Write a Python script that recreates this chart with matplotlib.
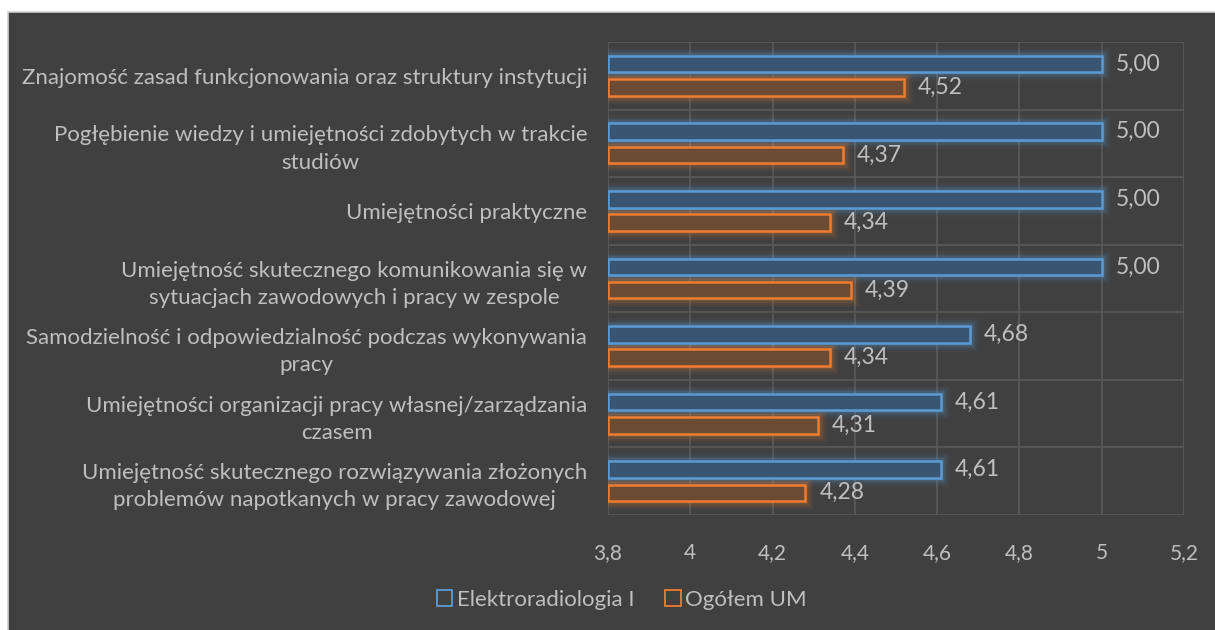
import matplotlib
matplotlib.use("Agg")
import matplotlib.pyplot as plt
from matplotlib.patches import Patch, Rectangle
from matplotlib.ticker import FuncFormatter, FixedLocator
import numpy as np

# Dane z wykresu (od góry do dołu)
kategorie = [
    "Znajomość zasad funkcjonowania oraz struktury instytucji",
    "Pogłębienie wiedzy i umiejętności zdobytych w trakcie\nstudiów",
    "Umiejętności praktyczne",
    "Umiejętność skutecznego komunikowania się w\nsytuacjach zawodowych i pracy w zespole",
    "Samodzielność i odpowiedzialność podczas wykonywania\npracy",
    "Umiejętności organizacji pracy własnej/zarządzania\nczasem",
    "Umiejętność skutecznego rozwiązywania złożonych\nproblemów napotkanych w pracy zawodowej",
]
elektroradiologia = [5.00, 5.00, 5.00, 5.00, 4.68, 4.61, 4.61]
ogolem_um = [4.52, 4.37, 4.34, 4.39, 4.34, 4.31, 4.28]
serie = ["Elektroradiologia I", "Ogółem UM"]
x_ticks = [3.8, 4.0, 4.2, 4.4, 4.6, 4.8, 5.0, 5.2]

tlo = "#404040"
tekst = "#bfbfbf"
siatka = "#5a5a5a"
niebieski = "#5b9bd5"
pomaranczowy = "#ed7d31"
wypelnienie = ["#3a5571", "#6b4b31"]

plt.rcParams["font.family"] = ["Lato", "DejaVu Sans"]

fig = plt.figure(figsize=(12.15, 6.3), dpi=100)
fig.patch.set_facecolor("white")
fig.patches.append(
    Rectangle((8 / 1215, -0.01), 1.02, 1 - 12 / 630 + 0.01, transform=fig.transFigure,
              facecolor=tlo, edgecolor="#d0d0d0", linewidth=1.2, zorder=-10)
)

ax = fig.add_axes([608 / 1215, 1 - 515 / 630, (1184 - 608) / 1215, (515 - 42) / 630])
ax.set_facecolor("none")

y = np.arange(len(kategorie))
h = 0.245
przes = 0.172

for wartosci, kolor, fill, dy in [
    (elektroradiologia, niebieski, wypelnienie[0], -przes),
    (ogolem_um, pomaranczowy, wypelnienie[1], przes),
]:
    start = x_ticks[0]
    szer = np.array(wartosci) - start
    # poświata
    for lw, a in [(12, 0.05), (9, 0.07), (6.5, 0.1), (4.5, 0.14)]:
        ax.barh(y + dy, szer, left=start, height=h, facecolor="none",
                edgecolor=kolor, linewidth=lw, alpha=a, zorder=2)
    ax.barh(y + dy, szer, left=start, height=h, facecolor=fill,
            edgecolor=kolor, linewidth=1.8, zorder=3)
    for yi, v in zip(y + dy, wartosci):
        ax.annotate(f"{v:.2f}".replace(".", ","), (v, yi), xytext=(10, 0),
                    textcoords="offset points", va="center", ha="left",
                    color=tekst, fontsize=16.5)

ax.set_xlim(3.8, 5.2)
ax.set_ylim(len(kategorie) - 0.5, -0.5)
ax.set_xticks(x_ticks)
ax.xaxis.set_major_formatter(FuncFormatter(lambda v, p: f"{v:g}".replace(".", ",")))
ax.set_yticks(y)
ax.set_yticklabels(kategorie)
for lab in ax.get_yticklabels():
    lab.set_multialignment("center")
    lab.set_linespacing(1.45)
ax.yaxis.set_minor_locator(FixedLocator(np.arange(-0.5, len(kategorie), 1)))
ax.tick_params(axis="both", which="both", length=0, colors=tekst, labelsize=16)
ax.tick_params(axis="x", labelsize=15, pad=20)
ax.tick_params(axis="y", pad=15)
ax.grid(axis="x", which="major", color=siatka, linewidth=1.2, zorder=0)
ax.grid(axis="y", which="minor", color=siatka, linewidth=1.2, zorder=0)
ax.set_axisbelow(True)
for s in ax.spines.values():
    s.set_visible(False)

uchwyty = [Patch(facecolor="none", edgecolor=niebieski, linewidth=1.3),
           Patch(facecolor="none", edgecolor=pomaranczowy, linewidth=1.3)]
fig.legend(uchwyty, serie, loc="center", bbox_to_anchor=(622 / 1215, 1 - 600 / 630),
           ncol=2, frameon=False, fontsize=16, labelcolor=tekst,
           handlelength=0.7, handleheight=0.7, handletextpad=0.2, columnspacing=1.4)

fig.savefig("out.png", dpi=100, facecolor="white")
